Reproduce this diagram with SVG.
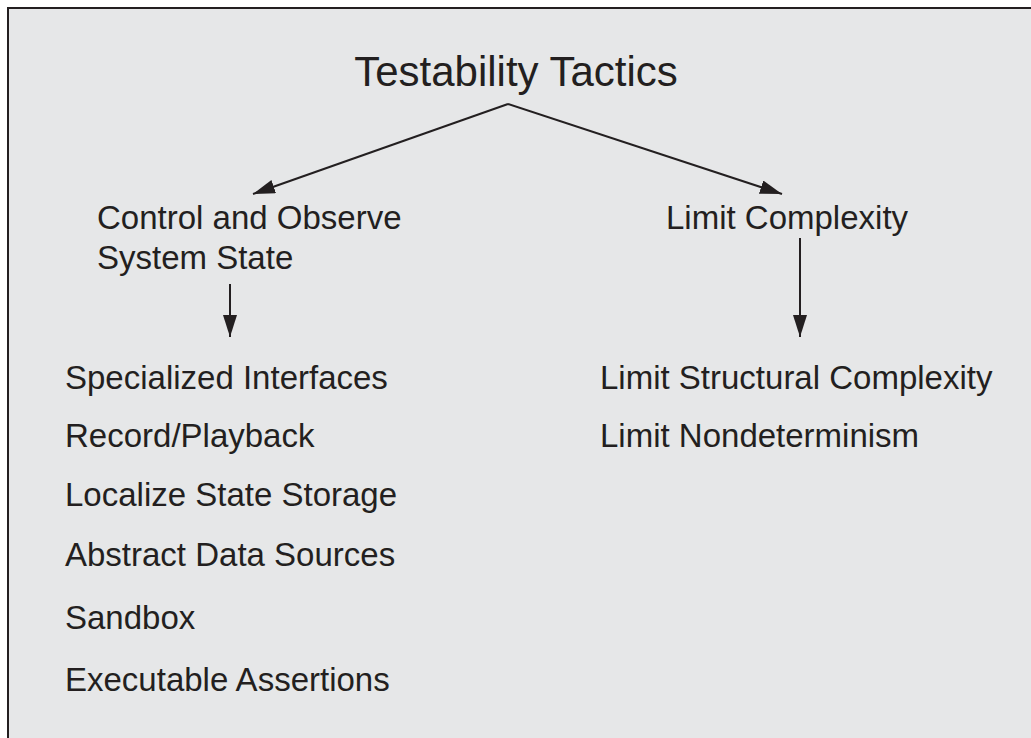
<svg xmlns="http://www.w3.org/2000/svg" width="1031" height="738" viewBox="0 0 1031 738">
  <style>
    .t { font-family: "Liberation Sans", Arial, sans-serif; fill: #231f20; }
    .title { font-size: 42px; }
    .lbl { font-size: 33px; }
    .conn { stroke: #231f20; stroke-width: 2; fill: none; }
  </style>
  <defs>
    <marker id="ah" viewBox="0 0 22 14" refX="22" refY="7" markerWidth="22" markerHeight="14" markerUnits="userSpaceOnUse" orient="auto">
      <path d="M0,0 L22,7 L0,14 Z" fill="#231f20"/>
    </marker>
  </defs>
  <rect x="0" y="0" width="1031" height="738" fill="#ffffff"/>
  <rect x="8" y="8" width="1040" height="760" fill="#e6e7e8" stroke="#231f20" stroke-width="2"/>

  <g id="connectors">
    <line class="conn" x1="508" y1="104" x2="253" y2="194" marker-end="url(#ah)"/>
    <line class="conn" x1="508" y1="104" x2="782" y2="194" marker-end="url(#ah)"/>
    <line class="conn" x1="230" y1="284" x2="230" y2="337" marker-end="url(#ah)"/>
    <line class="conn" x1="800" y1="238" x2="800" y2="337" marker-end="url(#ah)"/>
  </g>

  <g id="root">
    <text class="t title" x="516" y="86" text-anchor="middle">Testability Tactics</text>
  </g>
  <g id="control-observe">
    <text class="t lbl" x="97" y="229">Control and Observe</text>
    <text class="t lbl" x="97" y="269">System State</text>
  </g>
  <g id="limit-complexity">
    <text class="t lbl" x="666" y="229">Limit Complexity</text>
  </g>
  <g id="control-list">
    <text class="t lbl" x="65" y="389">Specialized Interfaces</text>
    <text class="t lbl" x="65" y="447">Record/Playback</text>
    <text class="t lbl" x="65" y="506">Localize State Storage</text>
    <text class="t lbl" x="65" y="566">Abstract Data Sources</text>
    <text class="t lbl" x="65" y="629">Sandbox</text>
    <text class="t lbl" x="65" y="691">Executable Assertions</text>
  </g>
  <g id="limit-list">
    <text class="t lbl" x="600" y="389">Limit Structural Complexity</text>
    <text class="t lbl" x="600" y="447">Limit Nondeterminism</text>
  </g>
</svg>
